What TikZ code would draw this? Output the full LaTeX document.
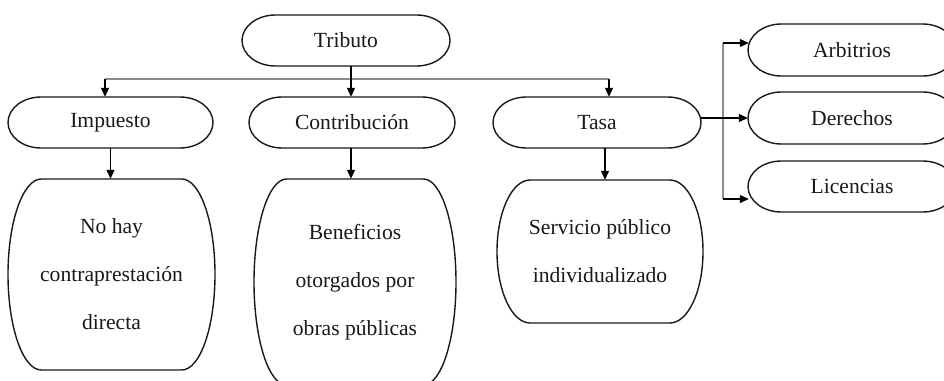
\documentclass[tikz,border=0pt]{standalone}
\usepackage{fontspec}
\setmainfont{Liberation Serif}
\usetikzlibrary{arrows.meta,calc}
\tikzset{
  boxtext/.style={draw=none, inner sep=0pt, align=center, font=\fontsize{21.6}{48}\selectfont, text=black!90},
  boxline/.style={draw=black!90, line width=1.4pt, fill=white},
  arr/.style={draw=black, line width=1.2pt, -{Triangle[length=9pt,width=8pt]}},
  grayline/.style={draw=black!45, line width=1.4pt},
}
\newcommand\termbox[6]{%
  \pgfmathsetmacro\trx{0.161*#4}%
  \draw[boxline] (#2-#4/2+\trx, #3+#5/2) -- (#2+#4/2-\trx, #3+#5/2)
    arc[start angle=90,end angle=-90,x radius=\trx,y radius=#5/2]
    -- (#2-#4/2+\trx, #3-#5/2)
    arc[start angle=270,end angle=90,x radius=\trx,y radius=#5/2] -- cycle;
  \node[boxtext, minimum width=#4pt, minimum height=#5pt] (#1) at (#2,#3) {#6};
}
\begin{document}
\begin{tikzpicture}[x=1pt,y=1pt]
\useasboundingbox (0,0) rectangle (944,-380);
\clip (0,0) rectangle (944,-380);
\fill[white] (0,0) rectangle (944,-380);

\termbox{trib}{346}{-40.5}{208}{51}{Tributo}
\termbox{imp}{110.5}{-122.5}{205}{51}{Impuesto}
\termbox{con}{352}{-122.5}{206}{51}{Contribución}
\termbox{tasa}{597}{-122.5}{208}{51}{Tasa}
\termbox{arb}{852}{-50}{208}{52}{Arbitrios}
\termbox{der}{852}{-118}{208}{52}{Derechos}
\termbox{lic}{852}{-186.5}{208}{51}{Licencias}
\termbox{nohay}{111.5}{-274.5}{207}{191}{No hay\\contraprestación\\directa}
\termbox{benef}{355}{-282}{202}{206}{Beneficios\\otorgados por\\obras públicas}
\termbox{serv}{600}{-251.5}{206}{143}{Servicio público\\individualizado}

% distribution line from Tributo
\coordinate (hl) at (105,-79);
\coordinate (hr) at (609,-79);
\draw[grayline] (hl) -- (hr);
\draw[arr] (hl) -- (hl |- imp.north);
\draw[arr] (hr) -- (hr |- tasa.north);
\draw[arr] ([xshift=5pt]trib.south) -- ([xshift=5pt]trib.south |- con.north);

% down arrows
\draw[arr] (imp.south) -- (imp.south |- nohay.north);
\draw[arr] ([xshift=-1pt]con.south) -- ([xshift=-1pt]con.south |- benef.north);
\draw[arr] ([xshift=8pt]tasa.south) -- ([xshift=8pt]tasa.south |- serv.north);

% Tasa to the right boxes
\coordinate (vt) at (723,-43);
\coordinate (vb) at (723,-199);
\draw[grayline] (vt) -- (vb);
\draw[arr] (der.west -| tasa.east) -- (der.west);
\draw[arr] (vt) -- ([xshift=1pt]vt -| arb.west);
\draw[arr] (vb) -- ([xshift=1pt]vb -| lic.west);
\end{tikzpicture}
\end{document}
